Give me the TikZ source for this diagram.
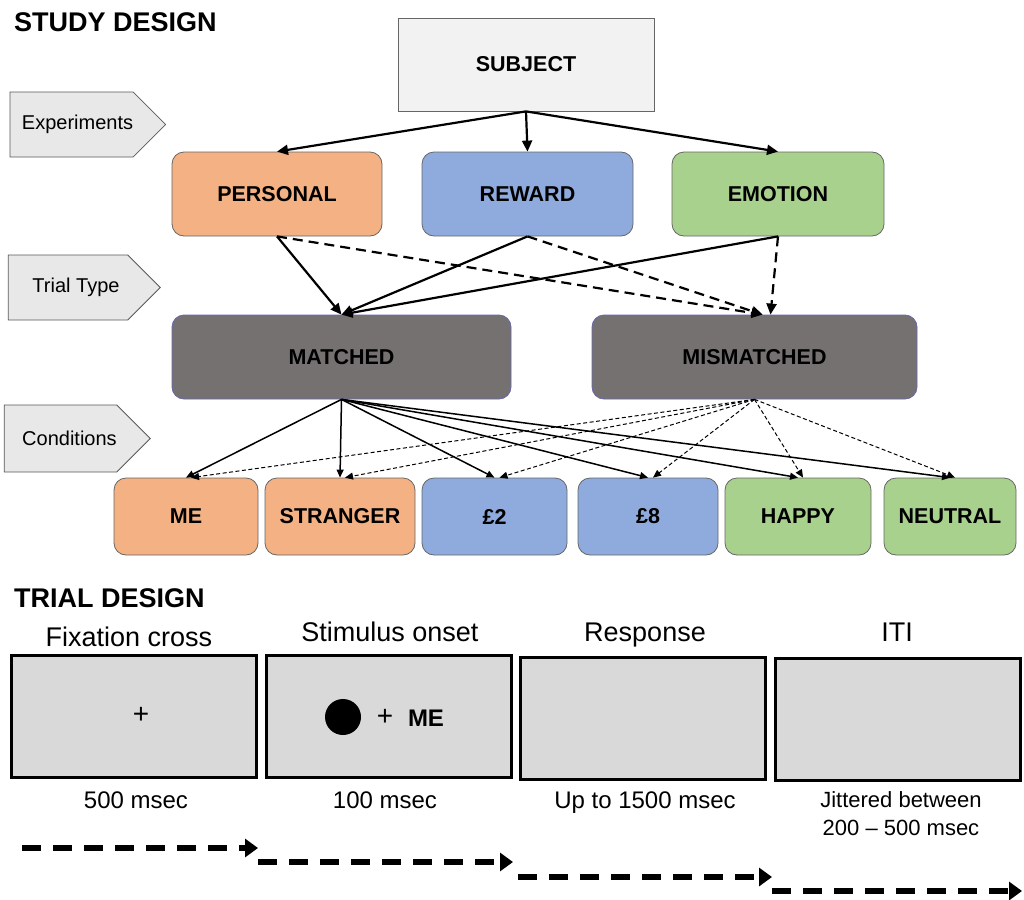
\documentclass[tikz,border=0pt]{standalone}
\usepackage{fontspec}
\setmainfont{Liberation Sans}
\usetikzlibrary{arrows.meta,shapes.symbols}

\definecolor{personalc}{HTML}{F4B183}
\definecolor{rewardc}{HTML}{8FAADC}
\definecolor{emotionc}{HTML}{A9D18E}
\definecolor{trialc}{HTML}{767171}

\tikzset{
    head/.style={font=\fontsize{27}{30}\selectfont\bfseries, anchor=west, inner sep=0pt},
    tag/.style={signal, signal to=east, signal pointer angle=90, draw=black!65, fill=black!9,
        line width=0.8pt, font=\fontsize{20}{22}\selectfont, inner sep=0pt},
    stage/.style={draw=black!60, line width=0.8pt, rounded corners=12pt,
        font=\fontsize{21.5}{24}\selectfont\bfseries, inner sep=0pt},
    screen/.style={draw, line width=2.5pt, fill=black!15, minimum width=245pt, minimum height=122pt},
    caption/.style={font=\fontsize{24}{28}\selectfont, align=center},
    link/.style={-{Triangle[length=11pt,width=10pt]}, line width=2.2pt},
    dlink/.style={link, dash pattern=on 10pt off 6pt},
    thin link/.style={-{Triangle[length=8pt,width=7pt]}, line width=1.5pt},
    thin dlink/.style={-{Triangle[length=8pt,width=7pt]}, line width=1pt, dash pattern=on 4pt off 2.5pt},
    flow/.style={line width=6pt, dash pattern=on 19pt off 12pt, -{Triangle[length=13pt,width=18pt]}},
}

\begin{document}
\begin{tikzpicture}[x=1pt, y=-1pt]
    \useasboundingbox (0,0) rectangle (1024,899);

    % study design
    \node[head] (study) at (14,22) {STUDY DESIGN};
    \node[stage, rounded corners=0pt, fill=black!5, minimum width=256pt, minimum height=93pt] (subject) at (526,64.5) {SUBJECT};

    \node[tag, minimum width=153pt, minimum height=65pt] (expt) at (71.5,124.5) {\hspace*{12pt}Experiments};
    \node[tag, minimum width=152pt, minimum height=65pt] (ttype) at (68,287.5) {\hspace*{16pt}Trial Type};
    \node[tag, minimum width=145pt, minimum height=67pt] (cond) at (60.5,438.5) {\hspace*{18pt}Conditions};

    \node[stage, fill=personalc, minimum width=210pt, minimum height=84pt] (personal) at (277,194) {PERSONAL};
    \node[stage, fill=rewardc, minimum width=211pt, minimum height=84pt] (reward) at (527.5,194) {REWARD};
    \node[stage, fill=emotionc, minimum width=212pt, minimum height=84pt] (emotion) at (778,194) {EMOTION};

    \node[stage, fill=trialc, draw=black!55!blue!60, minimum width=339pt, minimum height=84pt] (matched) at (341.5,357) {MATCHED};
    \node[stage, fill=trialc, draw=black!55!blue!60, minimum width=325pt, minimum height=84pt] (mismatched) at (754.5,357) {MISMATCHED};

    \node[stage, fill=personalc, minimum width=144pt, minimum height=77pt] (me) at (186,516.5) {ME};
    \node[stage, fill=personalc, minimum width=150pt, minimum height=77pt] (stranger) at (340,516.5) {STRANGER};
    \node[stage, fill=rewardc, minimum width=145pt, minimum height=77pt] (two) at (494.5,516.5) {£2};
    \node[stage, fill=rewardc, minimum width=140pt, minimum height=77pt] (eight) at (648,516.5) {£8};
    \node[stage, fill=emotionc, minimum width=146pt, minimum height=77pt] (happy) at (798,516.5) {HAPPY};
    \node[stage, fill=emotionc, minimum width=132pt, minimum height=77pt] (neutral) at (950,516.5) {NEUTRAL};

    \draw[link] (subject.south) -- (personal.north);
    \draw[link] (subject.south) -- (reward.north);
    \draw[link] (subject.south) -- (emotion.north);

    \draw[link] (personal.south) -- (matched.north);
    \draw[link] (reward.south) -- (matched.north);
    \draw[link] (emotion.south) -- (matched.north);
    \draw[dlink] (personal.south) -- ([xshift=8pt]mismatched.north);
    \draw[dlink] (reward.south) -- ([xshift=8pt]mismatched.north);
    \draw[dlink] (emotion.south) -- ([xshift=16pt]mismatched.north);

    \foreach \c in {me,stranger,two,eight,happy,neutral}{
        \draw[thin link] (matched.south) -- (\c.north);
        \draw[thin dlink] (mismatched.south) -- ([xshift=5pt]\c.north);
    }

    % trial design
    \node[head] (trial) at (14,598) {TRIAL DESIGN};

    \node[screen] (fix) at (134,716.5) {};
    \node[screen] (stim) at (389,716.5) {};
    \node[screen] (resp) at (643,718.5) {};
    \node[screen] (iti) at (898,719.5) {};

    \node[caption, font=\fontsize{27}{30}\selectfont] (tfix) at (129,637) {Fixation cross};
    \node[caption, font=\fontsize{27}{30}\selectfont] (tstim) at (390,632) {Stimulus onset};
    \node[caption, font=\fontsize{27}{30}\selectfont] (tresp) at (645,635) {Response};
    \node[caption, font=\fontsize{27}{30}\selectfont] (titi) at (897,632) {ITI};

    \node[font=\fontsize{28}{30}\selectfont] (cross) at (141,715) {+};
    \node[circle, fill=black, minimum size=36pt, inner sep=0pt] (dot) at (343,717) {};
    \node[font=\fontsize{28}{30}\selectfont] (plus) at (385,717) {+};
    \node[font=\fontsize{24}{28}\selectfont\bfseries] (word) at (426,718) {ME};

    \node[caption] (dfix) at (136,800) {500 msec};
    \node[caption] (dstim) at (385,800) {100 msec};
    \node[caption] (dresp) at (645,803) {Up to 1500 msec};
    \node[caption, font=\fontsize{22}{28}\selectfont] (diti) at (901,814) {Jittered between\\200 -- 500 msec};

    \coordinate (f0) at (22,848);
    \coordinate (f1) at (258,848);
    \coordinate (s0) at (258,862);
    \coordinate (s1) at (513,862);
    \coordinate (r0) at (518,877);
    \coordinate (r1) at (772,877);
    \coordinate (i0) at (772,891);
    \coordinate (i1) at (1022,891);
    \draw[flow] (f0) -- (f1);
    \draw[flow] (s0) -- (s1);
    \draw[flow] (r0) -- (r1);
    \draw[flow] (i0) -- (i1);
\end{tikzpicture}
\end{document}
